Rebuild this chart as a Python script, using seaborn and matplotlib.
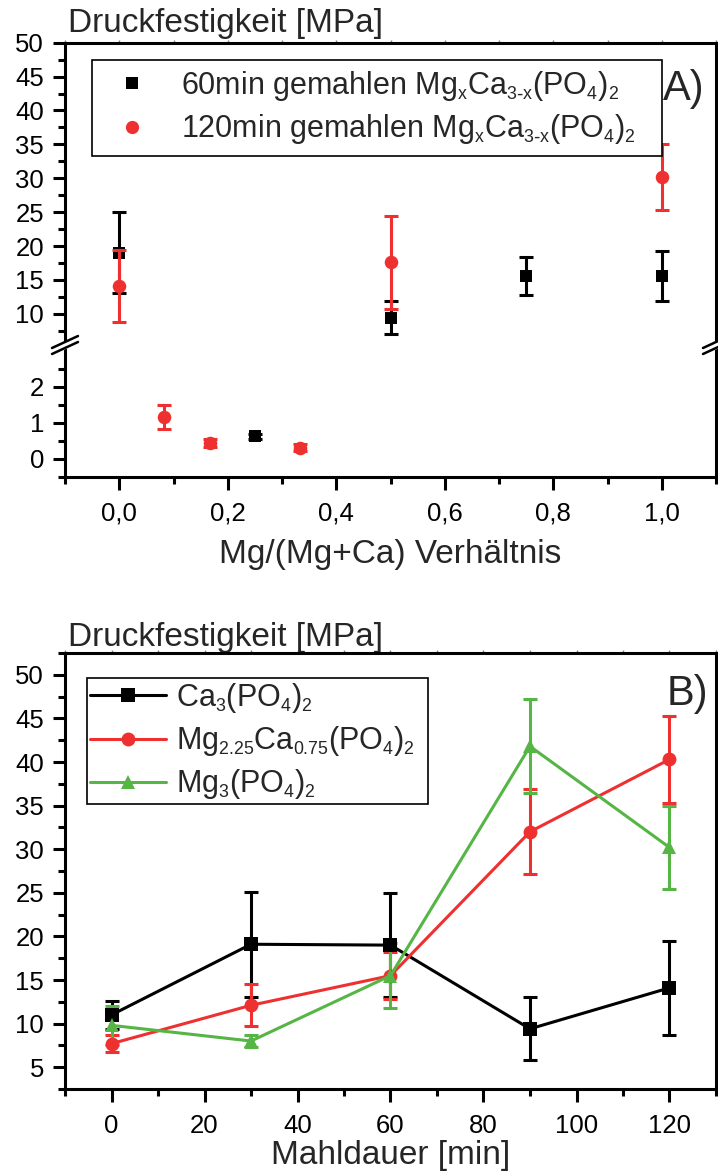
import numpy as np
import pandas as pd
import seaborn as sns
import matplotlib.pyplot as plt
import matplotlib._mathtext as mathtext_impl
from matplotlib.lines import Line2D
from matplotlib.ticker import FixedLocator, MultipleLocator

# ---- panel A: strength vs Mg/(Mg+Ca) ratio ----
ratio_60 = [0.0, 0.25, 0.5, 0.75, 1.0]
strength_60 = [19.0, 0.62, 9.4, 15.6, 15.6]
err_60 = [6.0, 0.08, 2.45, 2.75, 3.65]

ratio_120 = [0.0, 0.083, 0.167, 0.333, 0.5, 1.0]
strength_120 = [14.1, 1.15, 0.44, 0.31, 17.6, 30.2]
err_120 = [5.35, 0.33, 0.1, 0.1, 6.9, 4.85]

labels_a = [r"60min gemahlen Mg$_x$Ca$_{3\text{-}x}$(PO$_4$)$_2$",
            r"120min gemahlen Mg$_x$Ca$_{3\text{-}x}$(PO$_4$)$_2$"]
xticks_a = [0.0, 0.2, 0.4, 0.6, 0.8, 1.0]
xticklabels_a = ["0,0", "0,2", "0,4", "0,6", "0,8", "1,0"]

# ---- panel B: strength vs milling time ----
mill_time = [0, 30, 60, 90, 120]
ca3 = [11.0, 19.1, 19.0, 9.4, 14.1]
ca3_err = [1.6, 6.0, 6.0, 3.6, 5.4]
mg225 = [7.7, 12.1, 15.5, 32.0, 40.3]
mg225_err = [1.0, 2.4, 2.7, 4.9, 5.0]
mg3 = [9.8, 8.0, 15.5, 41.8, 30.2]
mg3_err = [2.2, 0.7, 3.7, 5.4, 4.8]
labels_b = [r"Ca$_3$(PO$_4$)$_2$",
            r"Mg$_{2.25}$Ca$_{0.75}$(PO$_4$)$_2$",
            r"Mg$_3$(PO$_4$)$_2$"]

RED = "#ee3030"
GREEN = "#55b545"

sns.set_theme(style="ticks", rc={"axes.edgecolor": "black", "xtick.color": "black",
                                 "ytick.color": "black", "legend.framealpha": 1})
plt.rcParams["font.family"] = ["Liberation Sans", "DejaVu Sans"]
plt.rcParams["mathtext.default"] = "regular"
# Origin-style subscripts are smaller than mathtext's default 0.7
mathtext_impl.SHRINK_FACTOR = 0.58

W_PX, H_PX = 718, 1173
fig = plt.figure(figsize=(W_PX / 100, H_PX / 100), dpi=100)


def fy(px):
    return 1 - px / H_PX


L, W = 65 / W_PX, 651 / W_PX
axU = fig.add_axes([L, fy(345), W, (345 - 42.7) / H_PX])
axL = fig.add_axes([L, fy(477), W, (477 - 345) / H_PX], sharex=axU)
axB = fig.add_axes([L, fy(1089), W, (1089 - 653) / H_PX])

ebar = dict(fmt="none", elinewidth=2.2, capsize=5, capthick=2.2)

# panel A: same data on both halves of the broken axis
for ax in (axU, axL):
    ax.errorbar(ratio_60, strength_60, yerr=err_60, ecolor="black", zorder=2, **ebar)
    sns.scatterplot(x=ratio_60, y=strength_60, marker="s", s=70, color="black",
                    linewidth=0, ax=ax, zorder=3)
    ax.errorbar(ratio_120, strength_120, yerr=err_120, ecolor=RED, zorder=4, **ebar)
    sns.scatterplot(x=ratio_120, y=strength_120, marker="o", s=95, color=RED,
                    linewidth=0, ax=ax, zorder=5)

axU.set_ylim(5.4, 50)
axL.set_ylim(-0.5, 3.15)
axU.set_xlim(-0.1, 1.1)
axU.yaxis.set_major_locator(MultipleLocator(5))
axU.yaxis.set_minor_locator(FixedLocator(np.arange(7.5, 50, 5)))
axL.yaxis.set_major_locator(FixedLocator([0, 1, 2]))
axL.yaxis.set_minor_locator(FixedLocator([-0.5, 0.5, 1.5, 2.5]))
axL.set_xticks(xticks_a)
axL.set_xticklabels(xticklabels_a)
axL.xaxis.set_minor_locator(MultipleLocator(0.1))

axU.spines["bottom"].set_visible(False)
axL.spines["top"].set_visible(False)
axU.tick_params(axis="x", which="both", bottom=False, labelbottom=False)

# panel B
long = pd.DataFrame({
    "t": mill_time * 3,
    "v": ca3 + mg225 + mg3,
    "s": [labels_b[0]] * 5 + [labels_b[1]] * 5 + [labels_b[2]] * 5,
})
pal = {labels_b[0]: "black", labels_b[1]: RED, labels_b[2]: GREEN}
mk = {labels_b[0]: "s", labels_b[1]: "o", labels_b[2]: "^"}
for lab, vals, errs in zip(labels_b, (ca3, mg225, mg3), (ca3_err, mg225_err, mg3_err)):
    axB.errorbar(mill_time, vals, yerr=errs, ecolor=pal[lab], zorder=2, **ebar)
sns.lineplot(data=long, x="t", y="v", hue="s", style="s", palette=pal, markers=mk,
             dashes=False, markersize=10, markeredgewidth=0, linewidth=2.2,
             legend=False, ax=axB, zorder=3)
axB.set_xlim(-10, 130)
axB.set_ylim(2.5, 52.5)
axB.xaxis.set_major_locator(MultipleLocator(20))
axB.xaxis.set_minor_locator(MultipleLocator(10))
axB.yaxis.set_major_locator(MultipleLocator(5))
axB.yaxis.set_minor_locator(FixedLocator(np.arange(2.5, 53, 5)))

for ax in (axU, axL, axB):
    ax.tick_params(which="major", direction="out", length=9, width=2.2,
                   labelsize=18.5, pad=6)
    ax.tick_params(which="minor", direction="out", length=5, width=2.2)
    ax.tick_params(axis="x", which="major", pad=9)
    for sp in ax.spines.values():
        sp.set_linewidth(2.2)
    ax.set_xlabel("")
    ax.set_ylabel("")

# faint ticks on the top edges
for ax, step in ((axU, 0.1), (axB, 10)):
    sec = ax.secondary_xaxis("top")
    sec.xaxis.set_major_locator(MultipleLocator(step))
    sec.tick_params(length=2, width=1, color="0.5", labeltop=False)
    sec.spines["top"].set_visible(False)


def draw_break(ax, x0):
    w, h = 651.0, 132.0
    dx, dy, gap = 13 / w, 6 / h, 3 / h
    xs = np.array([x0 - dx, x0 + dx])
    ax.fill_between(xs, [1 - dy - gap, 1 + dy - gap], [1 - dy + gap, 1 + dy + gap],
                    transform=ax.transAxes, color="white", clip_on=False, zorder=6)
    for off in (-gap, gap):
        ax.plot(xs, [1 - dy + off, 1 + dy + off], transform=ax.transAxes,
                color="black", lw=1.8, clip_on=False, zorder=7)


draw_break(axL, 0.0)
draw_break(axL, 1.0)

# axis titles
axL.set_xlabel("Mg/(Mg+Ca) Verhältnis", fontsize=24)
axL.xaxis.set_label_coords(0.5, -(563 - 477) / 132)
axL.xaxis.label.set_va("baseline")
axB.set_xlabel("Mahldauer [min]", fontsize=24)
axB.xaxis.set_label_coords(0.5, -(1164 - 1089) / 436)
axB.xaxis.label.set_va("baseline")
axU.set_ylabel("Druckfestigkeit [MPa]", fontsize=24, rotation=0, ha="left")
axU.yaxis.set_label_coords(3 / 651, 1 + (42.7 - 32) / 302.3)
axU.yaxis.label.set_va("baseline")
axB.set_ylabel("Druckfestigkeit [MPa]", fontsize=24, rotation=0, ha="left")
axB.yaxis.set_label_coords(3 / 651, 1 + (653 - 646) / 436)
axB.yaxis.label.set_va("baseline")

fig.text(663 / W_PX, fy(100), "A)", fontsize=30, va="baseline")
fig.text(667 / W_PX, fy(705), "B)", fontsize=30, va="baseline")

# legends
hA = [Line2D([], [], ls="none", marker="s", color="black", ms=8.5, mew=0),
      Line2D([], [], ls="none", marker="o", color=RED, ms=9.5, mew=0)]
legA = axU.legend(hA, labels_a, loc="upper left",
                  bbox_to_anchor=(92 / W_PX, fy(159), 570 / W_PX, 99 / H_PX),
                  bbox_transform=fig.transFigure, mode="expand", borderaxespad=0,
                  fontsize=22, fancybox=False, edgecolor="black", handlelength=2.0,
                  handletextpad=0.6, borderpad=0.3, labelspacing=0.3)
legA.get_frame().set_linewidth(1.2)
legA.set_zorder(10)

hB = [Line2D([], [], color=pal[l], marker=mk[l], lw=2.2, ms=10, mew=0) for l in labels_b]
legB = axB.legend(hB, labels_b, loc="upper left",
                  bbox_to_anchor=(87 / W_PX, fy(827), 341 / W_PX, 149 / H_PX),
                  bbox_transform=fig.transFigure, mode="expand", borderaxespad=0,
                  fontsize=22, fancybox=False, edgecolor="black", handlelength=2.5,
                  handletextpad=0.3, borderpad=0.1, labelspacing=0.3)
legB.get_frame().set_linewidth(1.2)

fig.savefig("out.png", dpi=100)
